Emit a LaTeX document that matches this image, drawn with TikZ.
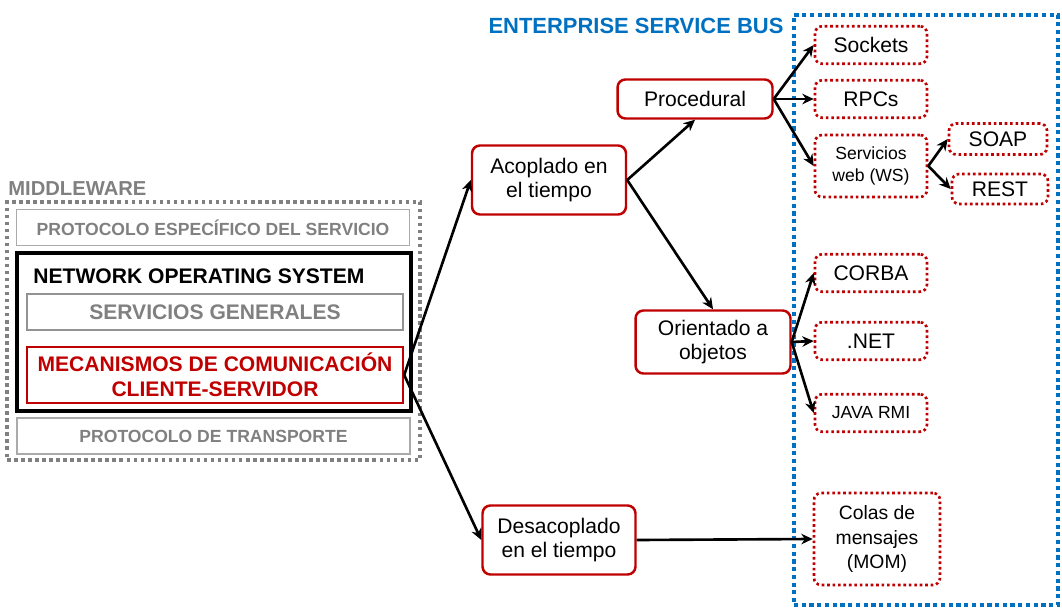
\documentclass[tikz,border=0pt]{standalone}
\usepackage{fontspec}
\setmainfont{Liberation Sans}
\usetikzlibrary{arrows.meta}
\definecolor{esbBlue}{RGB}{0,112,192}
\definecolor{mwRed}{RGB}{192,0,0}
\definecolor{mwGray}{RGB}{128,128,128}
\definecolor{lightGray}{RGB}{170,170,170}

\begin{document}
\begin{tikzpicture}[x=0.02cm, y=-0.02cm,
        layer/.style={draw=lightGray, line width=0.8pt, minimum width=7.86cm, minimum height=0.72cm, text=mwGray, font=\bfseries\fontsize{10}{12}\selectfont},
        inner/.style={minimum width=7.52cm, font=\bfseries\fontsize{12}{14}\selectfont, align=center},
        redBox/.style={draw=mwRed, line width=1.4pt, rounded corners=4.5pt, minimum width=3.1cm, align=center, font=\fontsize{12}{13.8}\selectfont},
        techBox/.style={draw=mwRed, line width=1.5pt, dash pattern=on 1.5pt off 1.6pt, rounded corners=4pt, minimum width=2.24cm, minimum height=0.75cm, align=center, font=\fontsize{12}{14}\selectfont},
        arrow/.style={line width=1.5pt, -{Stealth[length=6.5pt, width=6pt]}}]

        \useasboundingbox (0,0) rectangle (1062,608);

        % middleware stack
        \node[anchor=west, text=mwGray, font=\bfseries\fontsize{11.5}{13}\selectfont, inner sep=0pt] (mwLabel) at (8,189) {MIDDLEWARE};
        \node[draw=mwGray, line width=2pt, dash pattern=on 2pt off 2pt, minimum width=8.26cm, minimum height=5.16cm] (mw) at (213.5,331) {};
        \node[layer] (L4) at (213,227.5) {PROTOCOLO ESPECÍFICO DEL SERVICIO};
        \node[draw, line width=2.2pt, minimum width=7.88cm, minimum height=3.16cm] (nos) at (214,332) {};
        \node[anchor=west, font=\bfseries\fontsize{12}{14}\selectfont, inner sep=0pt] (nosLabel) at (33,276) {NETWORK OPERATING SYSTEM};
        \node[inner, draw=mwGray!85, line width=1.6pt, text=mwGray, minimum height=0.72cm] (gen) at (215,312) {SERVICIOS GENERALES};
        \node[inner, draw=mwRed, line width=1.4pt, text=mwRed, minimum height=1.12cm, inner sep=1pt] (mech) at (215,375) {MECANISMOS DE COMUNICACIÓN\\CLIENTE-SERVIDOR};
        \node[layer] (L1) at (213.5,436) {PROTOCOLO DE TRANSPORTE};

        % enterprise service bus
        \node[text=esbBlue, font=\bfseries\fontsize{12.5}{14}\selectfont] (esbLabel) at (636,26) {ENTERPRISE SERVICE BUS};
        \node[draw=esbBlue, line width=2.4pt, dash pattern=on 2.4pt off 2pt, minimum width=5.28cm, minimum height=11.8cm] (esb) at (926,310) {};

        % communication models
        \node[redBox, minimum width=3.08cm, minimum height=1.38cm] (acop) at (549,180) {Acoplado en\\el tiempo};
        \node[redBox, minimum height=0.78cm] (proc) at (695,99) {Procedural};
        \node[redBox, minimum height=1.26cm] (ori) at (713,342) {Orientado a\\objetos};
        \node[redBox, minimum width=3.06cm, minimum height=1.38cm] (desac) at (559,540) {Desacoplado\\en el tiempo};

        % technologies
        \node[techBox] (sock) at (871,45) {Sockets};
        \node[techBox] (rpc) at (871,99) {RPCs};
        \node[techBox, minimum height=1.24cm, font=\fontsize{10}{12.5}\selectfont] (ws) at (871,166) {Servicios\\web (WS)};
        \node[techBox, minimum width=1.96cm, minimum height=0.62cm] (soap) at (998,139) {SOAP};
        \node[techBox, minimum width=1.92cm, minimum height=0.6cm] (rest) at (1000,189) {REST};
        \node[techBox] (corba) at (871,273) {CORBA};
        \node[techBox] (net) at (871,341) {.NET};
        \node[techBox, font=\fontsize{10}{12}\selectfont] (rmi) at (871,413) {JAVA RMI};
        \node[techBox, minimum width=2.52cm, minimum height=1.84cm, font=\fontsize{11}{14}\selectfont] (colas) at (877,539) {Colas de\\mensajes\\(MOM)};

        \draw[arrow] (mech.east) -- (acop.west);
        \draw[arrow] (mech.east) -- (desac.west);
        \draw[arrow] (acop.east) -- (proc.south);
        \draw[arrow] (acop.east) -- (ori.north);
        \draw[arrow] (proc.east) -- (sock.west);
        \draw[arrow] (proc.east) -- (rpc.west);
        \draw[arrow] (proc.east) -- (ws.west);
        \draw[arrow] (ws.east) -- (soap.west);
        \draw[arrow] (ws.east) -- (rest.west);
        \draw[arrow] (ori.east) -- (corba.west);
        \draw[arrow] (ori.east) -- (net.west);
        \draw[arrow] (ori.east) -- (rmi.west);
        \draw[arrow] (desac.east) -- (colas.west);
    \end{tikzpicture}
\end{document}
